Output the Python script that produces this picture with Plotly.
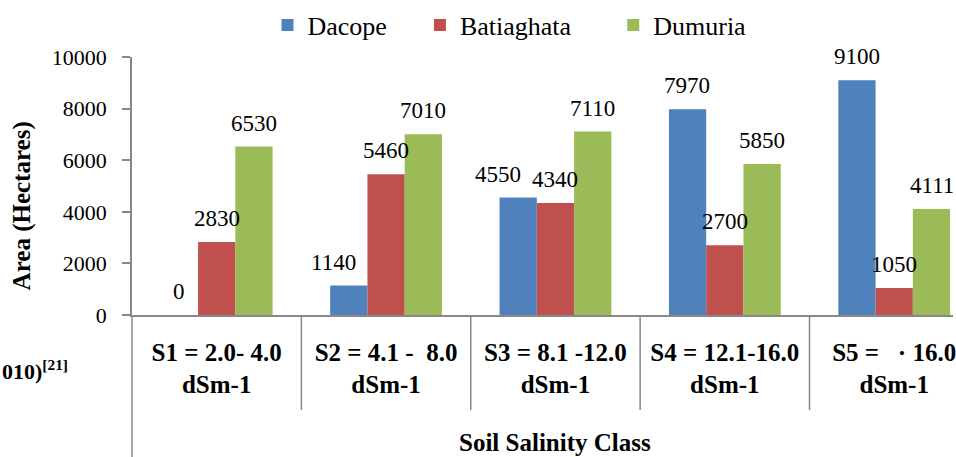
import plotly.graph_objects as go

categories = ["S1 = 2.0- 4.0<br>dSm-1", "S2 = 4.1 -  8.0<br>dSm-1", "S3 = 8.1 -12.0<br>dSm-1",
              "S4 = 12.1-16.0<br>dSm-1", "S5 =   · 16.0<br>dSm-1"]
series_names = ["Dacope", "Batiaghata", "Dumuria"]
dacope = [0, 1140, 4550, 7970, 9100]
batiaghata = [2830, 5460, 4340, 2700, 1050]
dumuria = [6530, 7010, 7110, 5850, 4111]
y_ticks = [0, 2000, 4000, 6000, 8000, 10000]
y_tick_labels = ["0", "2000", "4000", "6000", "8000", "10000"]

colors = ["#4F81BD", "#C0504D", "#9BBB59"]
values = [dacope, batiaghata, dumuria]
label_nudge = {(0, 1): -15, (0, 2): -20}  # manual label offsets seen in the original

W, H = 956, 457
ML, MR, MT, MB = 132, 0, 57, 142
PW = W - ML - MR
PH = H - MT - MB
slot_px = 170
bar_px = slot_px * 0.66 / 3
legend_px = [268, 421, 615]
legend_ids = ["legend", "legend2", "legend3"]

serif = "Liberation Serif"

fig = go.Figure()
for i, (name, vals) in enumerate(zip(series_names, values)):
    fig.add_trace(go.Bar(x=categories, y=vals, name=name, marker_color=colors[i],
                         marker_line_width=0, legend=legend_ids[i]))

annotations = []
for i, vals in enumerate(values):
    for j, v in enumerate(vals):
        annotations.append(dict(x=categories[j], y=v, xref="x", yref="y", text=str(v),
                                showarrow=False, xanchor="center", yanchor="bottom",
                                xshift=(i - 1) * bar_px + label_nudge.get((i, j), 0),
                                yshift=9, font=dict(family=serif, size=23, color="black")))

annotations.append(dict(x=(22 - ML) / PW, y=(MT + PH - 206) / PH, xref="paper", yref="paper",
                        xanchor="center", yanchor="middle",
                        text="<b>Area (Hectares)</b>", textangle=-90, showarrow=False,
                        font=dict(family=serif, size=25, color="black")))
annotations.append(dict(x=2, y=(MT + PH - 442) / PH, xref="x", yref="paper",
                        xanchor="center", yanchor="middle",
                        text="<b>Soil Salinity Class</b>", showarrow=False,
                        font=dict(family=serif, size=25, color="black")))
annotations.append(dict(x=(0 - ML) / PW, y=(MT + PH - 370) / PH, xref="paper", yref="paper",
                        xanchor="left", yanchor="middle", text="<b>010)<sup>[21]</sup></b>",
                        showarrow=False, font=dict(family=serif, size=22, color="black")))

gray = "#888888"
shapes = [dict(type="line", xref="paper", yref="paper", x0=0, x1=0, y0=-(H - MT - PH) / PH, y1=0,
               line=dict(color=gray, width=1.5))]
for k in range(len(categories) - 1):
    shapes.append(dict(type="line", xref="x", yref="paper", x0=k + 0.5, x1=k + 0.5,
                       y0=-95 / PH, y1=0, line=dict(color=gray, width=1.5)))

legend_common = dict(orientation="h", xanchor="left", y=(MT + PH - 25) / PH, yanchor="middle",
                     font=dict(family=serif, size=26, color="black"), itemwidth=30,
                     bgcolor="rgba(0,0,0,0)")
fig.update_layout(
    width=W, height=H, autosize=False,
    margin=dict(l=ML, r=MR, t=MT, b=MB, pad=0),
    plot_bgcolor="white", paper_bgcolor="white",
    barmode="group", bargap=0.34, bargroupgap=0,
    font=dict(family=serif, color="black"),
    showlegend=True,
    annotations=annotations,
    shapes=shapes,
    **{lid: dict(x=(px - ML) / PW, **legend_common) for lid, px in zip(legend_ids, legend_px)},
)
fig.update_xaxes(type="category", range=[-0.5, -0.5 + PW / slot_px], showline=True,
                 linecolor=gray, linewidth=1.5, ticks="", showgrid=False, zeroline=False,
                 tickfont=dict(family=serif, size=25, color="black"), ticklabelstandoff=14,
                 tickprefix="<b>", ticksuffix="</b>")
fig.update_yaxes(range=[0, 10000], tickvals=y_ticks, ticktext=y_tick_labels, showline=True,
                 linecolor=gray, linewidth=1.5,
                 ticks="outside", ticklen=8, tickcolor=gray, tickwidth=1.5, showgrid=False,
                 zeroline=False, tickfont=dict(family=serif, size=22, color="black"),
                 tickprefix="<b>", ticksuffix="</b>", ticklabelstandoff=11)

fig.write_html("out.html", config={"displayModeBar": False},
               post_script="document.body.style.margin='0';")
